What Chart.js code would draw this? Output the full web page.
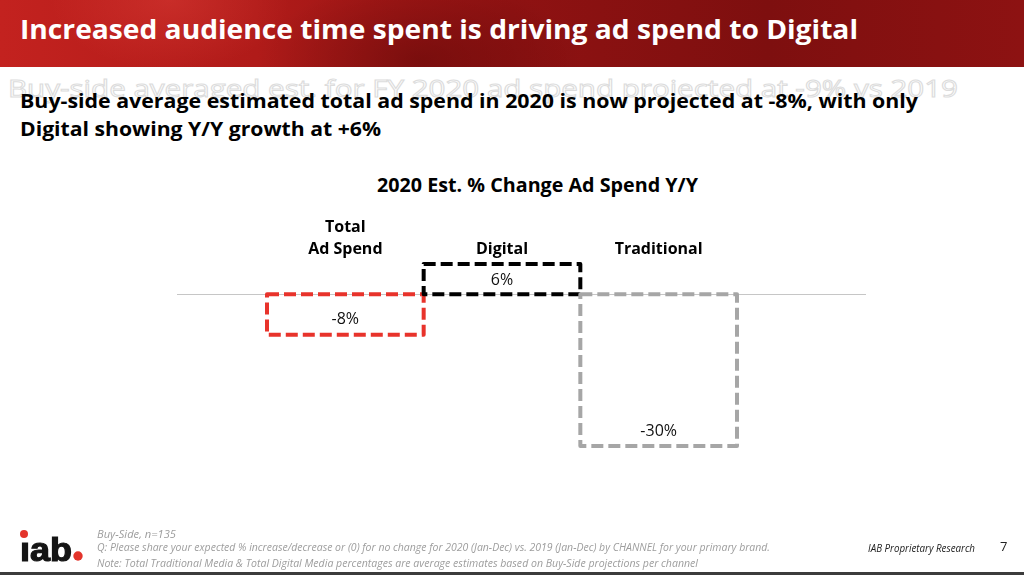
<!DOCTYPE html>
<html>
<head>
<meta charset="utf-8">
<title>2020 Est. % Change Ad Spend Y/Y</title>
<script src="https://cdn.jsdelivr.net/npm/chart.js@4.4.1/dist/chart.umd.min.js"></script>
<style>
  body { margin: 0; width: 1024px; height: 575px; overflow: hidden; background: #fff; position: relative; font-family: "Open Sans", sans-serif; }
  .t { position: absolute; white-space: nowrap; line-height: 1; transform-origin: left top; }
  #banner {
    position: absolute; left: 0; top: 0; width: 1024px; height: 67px;
    background:
      radial-gradient(ellipse 90px 60px at 1120px 10px, rgba(255,80,70,0.25), transparent),
      radial-gradient(ellipse 160px 80px at 420px 60px, rgba(60,0,0,0.35), transparent),
      radial-gradient(ellipse 120px 70px at 170px 0px, rgba(255,90,80,0.25), transparent),
      linear-gradient(90deg, #c3221f 0%, #b01b19 25%, #8f1212 50%, #7e0f0f 75%, #8d1212 100%);
  }
  #chartBox { position: absolute; left: 177px; top: 200px; }
  #bottomBar { position: absolute; left: 0; top: 572px; width: 1024px; height: 3px; background: #3c3c3c; }
</style>
</head>
<body>
<div id="banner"></div>
<div class="t" data-w="838" style="left:20px;top:15px;font-size:27px;font-weight:700;color:#fff;">Increased audience time spent is driving ad spend to Digital</div>

<div class="t" data-w="950" style="left:8px;top:76px;font-size:24px;font-weight:400;color:#fff;-webkit-text-stroke:1px #dcdcdc;">Buy-side averaged est. for FY 2020 ad spend projected at -9% vs 2019</div>
<div class="t" data-w="898" style="left:20px;top:92px;font-size:19px;font-weight:700;color:#000;">Buy-side average estimated total ad spend in 2020 is now projected at -8%, with only</div>
<div class="t" data-w="361" style="left:20px;top:120px;font-size:19px;font-weight:700;color:#000;">Digital showing Y/Y growth at +6%</div>

<div class="t" data-w="321" style="left:377px;top:175px;font-size:20px;font-weight:700;color:#000;">2020 Est. % Change Ad Spend Y/Y</div>

<div id="chartBox"><canvas id="adChart" width="700" height="250"></canvas></div>

<svg style="position:absolute;left:0;top:0" width="1024" height="575">
  <text x="20" y="561" font-family="Liberation Sans, Arial, sans-serif" font-weight="700" font-size="34" fill="#151515" stroke="#151515" stroke-width="1.2" textLength="52" lengthAdjust="spacingAndGlyphs">ıab</text>
  <circle cx="24" cy="534" r="4" fill="#e3342b"/>
  <circle cx="78" cy="556" r="4.7" fill="#e3342b"/>
</svg>

<div class="t" data-w="79" style="left:97px;top:529px;font-size:10px;font-style:italic;color:#9d9d9d;">Buy-Side, n=135</div>
<div class="t" data-w="673" style="left:97px;top:542px;font-size:10px;font-style:italic;color:#9d9d9d;">Q: Please share your expected % increase/decrease or (0) for no change for 2020 (Jan-Dec) vs. 2019 (Jan-Dec) by CHANNEL for your primary brand.</div>
<div class="t" data-w="601" style="left:97px;top:558px;font-size:10px;font-style:italic;color:#9d9d9d;">Note: Total Traditional Media &amp; Total Digital Media percentages are average estimates based on Buy-Side projections per channel</div>
<div class="t" data-w="107" style="left:868px;top:542px;font-size:11px;font-style:italic;color:#222;">IAB Proprietary Research</div>
<div class="t" style="left:1000px;top:540px;font-size:13px;color:#222;">7</div>
<div id="bottomBar"></div>

<script>
// chart data
const categories = [['Total', 'Ad Spend'], 'Digital', 'Traditional'];
const changeValues = [-8, 6, -30];
const axisMin = -30;
const axisMax = 6;

// squeeze the html text to the widths of the narrow slide font
document.querySelectorAll('[data-w]').forEach(function(el) {
    const w = el.getBoundingClientRect().width;
    el.style.transform = 'scaleX(' + (el.dataset.w / w) + ')';
});

// bars are drawn as dashed outlines, plus a zero line wider than the plot
const dashedBars = {
    id: 'dashedBars',
    beforeDatasetsDraw(chart) {
        const ctx = chart.ctx;
        const y0 = Math.round(chart.scales.y.getPixelForValue(0)) + 0.5;
        ctx.save();
        ctx.strokeStyle = '#c6c6c6';
        ctx.lineWidth = 1;
        ctx.beginPath();
        ctx.moveTo(0, y0);
        ctx.lineTo(chart.width - 11, y0);
        ctx.stroke();
        ctx.restore();
    },
    afterDatasetsDraw(chart) {
        const ctx = chart.ctx;
        const ds = chart.data.datasets[0];
        const meta = chart.getDatasetMeta(0);
        ctx.save();
        meta.data.forEach(function(bar, i) {
            const p = bar.getProps(['x', 'y', 'base', 'width'], true);
            ctx.lineWidth = 4;
            ctx.lineJoin = 'round';
            ctx.setLineDash([12, 5]);
            ctx.strokeStyle = ds.borderColor[i];
            ctx.strokeRect(p.x - p.width / 2, Math.min(p.y, p.base), p.width, Math.abs(p.base - p.y));

            const v = ds.data[i];
            ctx.setLineDash([]);
            ctx.fillStyle = '#111';
            ctx.font = '16px "Open Sans"';
            ctx.textAlign = 'center';
            ctx.textBaseline = 'middle';
            ctx.fillText(v + '%', p.x, v < 0 ? p.y - 15 : p.y + 16);
        });
        ctx.restore();
    }
};

window.onload = function() {
    const ctx = document.getElementById('adChart').getContext('2d');

    new Chart(ctx, {
        type: 'bar',
        data: {
            labels: categories,
            datasets: [{
                data: changeValues,
                backgroundColor: 'rgba(0,0,0,0)',
                borderColor: ['#e8332b', '#000000', '#a6a6a6'],
                borderWidth: 0,
                barPercentage: 1,
                categoryPercentage: 1
            }]
        },
        options: {
            responsive: false,
            animation: false,
            layout: { padding: { left: 90, right: 140, top: 0, bottom: 4 } },
            plugins: {
                legend: { display: false },
                tooltip: { enabled: false }
            },
            scales: {
                x: {
                    position: 'top',
                    grid: { display: false, drawTicks: false },
                    border: { display: false },
                    ticks: {
                        color: '#000',
                        padding: 4,
                        maxRotation: 0,
                        autoSkip: false,
                        font: { family: '"Open Sans"', size: 16, weight: 'bold', lineHeight: 1.375 }
                    },
                    afterFit: function(axis) { axis.height = 64; }
                },
                y: {
                    display: false,
                    min: axisMin,
                    max: axisMax
                }
            }
        },
        plugins: [dashedBars]
    });
};
</script>
</body>
</html>
